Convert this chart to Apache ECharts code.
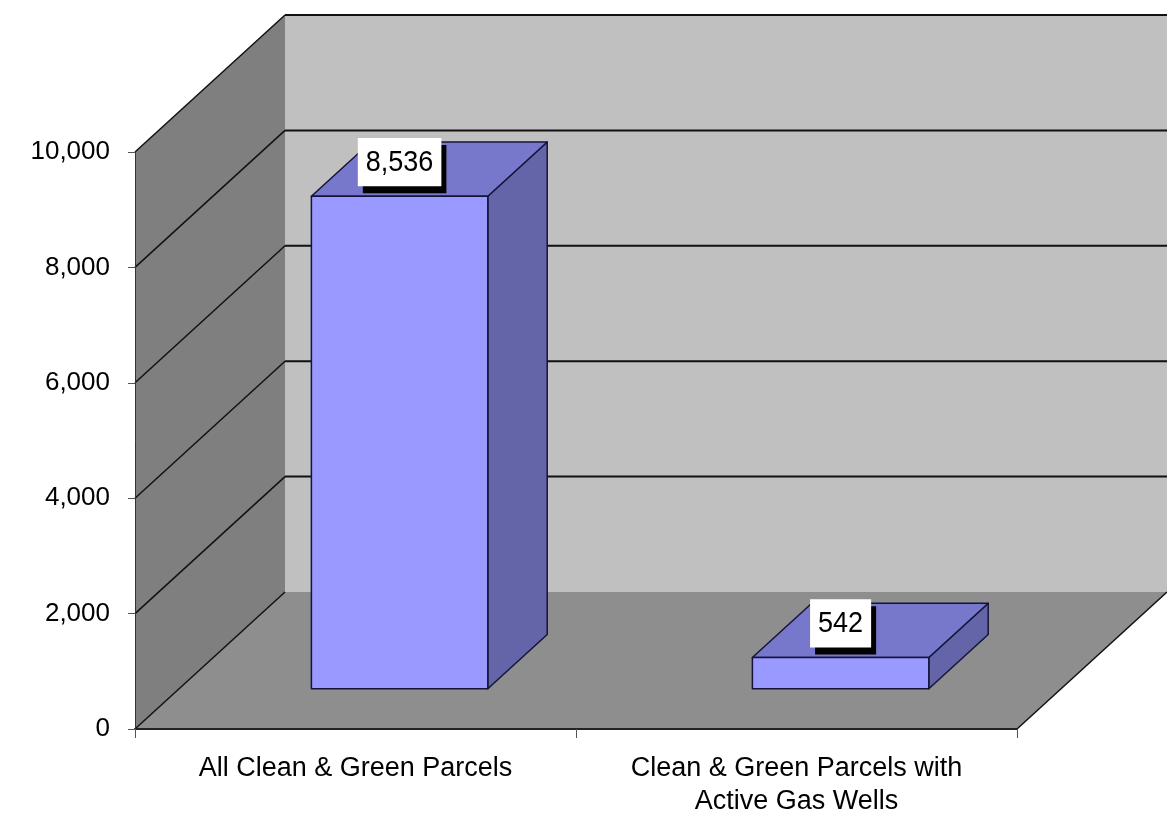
<!DOCTYPE html>
<html>
<head>
<meta charset="utf-8">
<script src="https://cdn.jsdelivr.net/npm/echarts@6/dist/echarts.min.js"></script>
<style>
html,body{margin:0;padding:0;background:#fff;}
#chart{width:1167px;height:818px;}
</style>
</head>
<body>
<div id="chart"></div>
<script>
const categories = ['All Clean & Green Parcels', 'Clean & Green Parcels with\nActive Gas Wells'];
const values = [8536, 542];
const yTicks = [0, 2000, 4000, 6000, 8000, 10000];

// 3D look (styles / layout constants)
const DX = 150, DY = -137;          // full depth offset
const BAR_FRONT = 0.294, BAR_BACK = 0.69; // bar depth position (fraction of full depth)
const BAR_W = 0.40;                  // bar width as fraction of category band
const FONT = 'Liberation Sans, Arial, sans-serif';

const chart = echarts.init(document.getElementById('chart'), null, {renderer: 'canvas'});

function wallsRender(params, api) {
  const cs = params.coordSys;
  const x0 = cs.x, x1 = cs.x + cs.width;
  const yMax = api.coord([0, yTicks[yTicks.length - 1]])[1];
  const y0 = api.coord([0, 0])[1];
  const children = [];
  children.push({type: 'rect', shape: {x: x0 + DX, y: yMax + DY, width: x1 - x0, height: y0 - yMax},
    style: {fill: '#c0c0c0'}});
  children.push({type: 'polygon', shape: {points: [[x0, yMax], [x0 + DX, yMax + DY], [x0 + DX, y0 + DY], [x0, y0]]},
    style: {fill: '#7f7f7f'}});
  yTicks.forEach(function (t) {
    if (t === 0) return;
    const y = api.coord([0, t])[1];
    children.push({type: 'line', shape: {x1: x0 + DX, y1: y + DY, x2: x1 + DX, y2: y + DY},
      style: {stroke: '#111', lineWidth: 2}});
  });
  children.push({type: 'polygon', shape: {points: [[x0, y0], [x1, y0], [x1 + DX, y0 + DY], [x0 + DX, y0 + DY]]},
    style: {fill: '#8e8e8e'}});
  yTicks.forEach(function (t) {
    const y = api.coord([0, t])[1];
    children.push({type: 'line', shape: {x1: x0, y1: y, x2: x0 + DX, y2: y + DY},
      style: {stroke: '#111', lineWidth: 1.5}});
  });
  children.push({type: 'line', shape: {x1: x1, y1: y0, x2: x1 + DX, y2: y0 + DY},
    style: {stroke: '#111', lineWidth: 1.5}});
  return {type: 'group', children: children};
}

function barRender(params, api) {
  const i = api.value(0), v = api.value(1);
  const base = api.coord([i, 0]);
  const top = api.coord([i, v]);
  const bw = api.size([1, 0])[0] * BAR_W;
  const fx = BAR_FRONT * DX, fy = BAR_FRONT * DY;
  const ddx = (BAR_BACK - BAR_FRONT) * DX, ddy = (BAR_BACK - BAR_FRONT) * DY;
  const xl = base[0] - bw / 2 + fx, xr = base[0] + bw / 2 + fx;
  const yb = base[1] + fy, yt = top[1] + fy;
  const edge = {stroke: '#14143a', lineWidth: 1.5, lineJoin: 'round'};
  const txt = v.toLocaleString('en-US');
  const cx = (xl + xr) / 2, cy = yt - 34;
  const lbl = function (dx, dy, bg) {
    return {type: 'text', x: cx + dx, y: cy + dy, scaleY: 1.12,
      style: {text: txt, x: 0, y: 0, align: 'center', verticalAlign: 'middle',
        font: '27px ' + FONT, fill: '#000', backgroundColor: bg, padding: [8, 8], lineHeight: 27}};
  };
  return {type: 'group', children: [
    {type: 'polygon', shape: {points: [[xr, yt], [xr + ddx, yt + ddy], [xr + ddx, yb + ddy], [xr, yb]]},
      style: Object.assign({fill: '#6464a8'}, edge)},
    {type: 'polygon', shape: {points: [[xl, yt], [xr, yt], [xr + ddx, yt + ddy], [xl + ddx, yt + ddy]]},
      style: Object.assign({fill: '#7777cc'}, edge)},
    {type: 'rect', shape: {x: xl, y: yt, width: xr - xl, height: yb - yt},
      style: Object.assign({fill: '#9999ff'}, edge)},
    lbl(5, 7, '#000'),
    lbl(0, 0, '#fff')
  ]};
}

const option = {
  animation: false,
  backgroundColor: '#fff',
  grid: {left: 135, right: 150, top: 152, bottom: 87, containLabel: false},
  xAxis: {
    type: 'category', data: categories, z: 10,
    axisLine: {show: true, lineStyle: {color: '#222', width: 2}},
    axisTick: {show: true, length: 9, lineStyle: {color: '#555', width: 1}},
    axisLabel: {interval: 0, margin: 23, color: '#000', fontSize: 27, fontFamily: FONT, lineHeight: 33},
    splitLine: {show: false}
  },
  yAxis: {
    type: 'value', min: 0, max: 10000, interval: 2000, z: 10,
    axisLine: {show: true, lineStyle: {color: '#333', width: 1}},
    axisTick: {show: true, length: 7, lineStyle: {color: '#555', width: 1}},
    axisLabel: {margin: 25, color: '#000', fontSize: 26, fontFamily: FONT,
      formatter: function (v) { return v.toLocaleString('en-US'); }},
    splitLine: {show: false}
  },
  series: [
    {type: 'custom', name: 'walls', z: 1, silent: true, clip: false, renderItem: wallsRender, data: [[0, 0]]},
    {type: 'custom', name: 'Parcels', z: 3, clip: false, renderItem: barRender,
      data: values.map(function (v, i) { return [i, v]; })}
  ]
};
chart.setOption(option);
</script>
</body>
</html>
